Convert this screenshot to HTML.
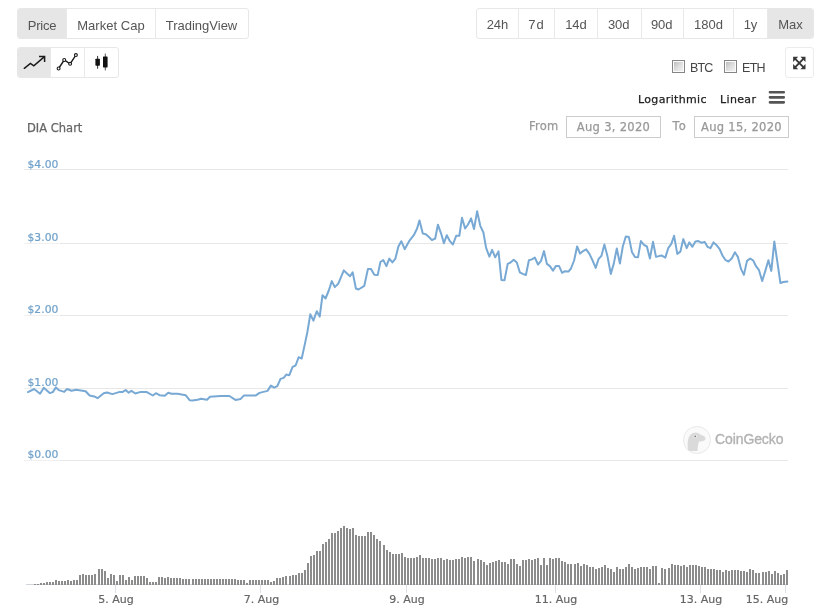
<!DOCTYPE html>
<html lang="en">
<head>
<meta charset="utf-8">
<title>DIA Chart</title>
<style>
html,body{margin:0;padding:0;background:#fff;}
body{width:822px;height:613px;position:relative;overflow:hidden;font-family:"Liberation Sans",sans-serif;color:#555;}
.abs{position:absolute;}
.chart{position:absolute;left:0;top:0;}
.grp{position:absolute;box-sizing:border-box;border:1px solid #e7e7e7;border-radius:3px;background:#fff;display:flex;overflow:hidden;}
.grp .b{box-sizing:border-box;height:100%;border-left:1px solid #e9e9e9;display:flex;align-items:center;justify-content:center;font-size:13px;color:#555;white-space:nowrap;padding-top:4px;}
.grp .b:first-child{border-left:0;}
.grp .b.on{background:#e6e6e6;}
.grp.rng .b{padding-top:1.5px;}
.ylab text{font-family:"DejaVu Sans","Liberation Sans",sans-serif;font-size:10.8px;fill:#6fa1cb;stroke:#6fa1cb;stroke-width:0.2px;}
.xlab text{font-family:"DejaVu Sans","Liberation Sans",sans-serif;font-size:11px;fill:#666;stroke:#666;stroke-width:0.2px;}
.t{position:absolute;white-space:nowrap;line-height:1;}
.inp{position:absolute;box-sizing:border-box;border:1px solid #ccc;background:#fff;color:#999;font-family:"DejaVu Sans","Liberation Sans",sans-serif;font-size:11.5px;letter-spacing:0.3px;text-align:center;line-height:20px;height:22px;-webkit-text-stroke:0.25px #999;}
.cb{position:absolute;box-sizing:border-box;width:13px;height:13px;border:1px solid #858585;padding:1px;background:linear-gradient(135deg,#bdbdbd 0%,#dedede 50%,#f2f2f2 100%) content-box,#fbfbfb;}
</style>
</head>
<body>
<svg class="chart" width="822" height="613" viewBox="0 0 822 613">
<g stroke="#e7e7e7" stroke-width="1" fill="none">
<path d="M24 169.5 H788"/>
<path d="M24 243.5 H60" stroke="#f0f0f0"/><path d="M60 243.5 H788"/>
<path d="M24 315.5 H60" stroke="#f0f0f0"/><path d="M60 315.5 H788"/>
<path d="M24 388.5 H60" stroke="#f0f0f0"/><path d="M60 388.5 H788"/>
<path d="M24 460.5 H60" stroke="#f0f0f0"/><path d="M60 460.5 H788"/>
</g>
<g class="ylab">
<text x="27.5" y="167.5">$4.00</text>
<text x="27.5" y="240.5">$3.00</text>
<text x="27.5" y="312.7">$2.00</text>
<text x="27.5" y="386.1">$1.00</text>
<text x="27.5" y="457.9">$0.00</text>
</g>
<path d="M26 584.5 H788" stroke="#d0d4da" stroke-width="1" fill="none"/>
<g fill="#8c8c8c" shape-rendering="crispEdges">
<path d="M34 584v1h2v-1zM37 584v1h2v-1zM40 583v2h2v-2zM43 583v2h2v-2zM46 582v3h2v-3zM49 582v3h2v-3zM52 582v3h2v-3zM55 580v5h2v-5zM58 581v4h2v-4zM61 581v4h2v-4zM64 581v4h2v-4zM67 580v5h2v-5zM70 581v4h2v-4zM73 580v5h2v-5zM76 580v5h2v-5zM79 575v10h2v-10zM82 574v11h2v-11zM85 575v10h2v-10zM88 575v10h2v-10zM91 575v10h2v-10zM94 574v11h2v-11zM98 569v16h2v-16zM101 569v16h2v-16zM104 571v14h2v-14zM107 578v7h2v-7zM110 574v11h2v-11zM113 575v10h2v-10zM116 581v4h2v-4zM119 575v10h2v-10zM122 575v10h2v-10zM125 580v5h2v-5zM128 577v8h2v-8zM131 580v5h2v-5zM134 576v9h2v-9zM137 576v9h2v-9zM140 576v9h2v-9zM143 576v9h2v-9zM146 578v7h2v-7zM149 582v3h2v-3zM152 582v3h2v-3zM155 582v3h2v-3zM158 577v8h2v-8zM161 577v8h2v-8zM164 578v7h2v-7zM167 577v8h2v-8zM170 578v7h2v-7zM173 578v7h2v-7zM176 578v7h2v-7zM179 578v7h2v-7zM182 579v6h2v-6zM185 579v6h2v-6zM188 579v6h2v-6zM192 579v6h2v-6zM195 579v6h2v-6zM198 579v6h2v-6zM201 579v6h2v-6zM204 579v6h2v-6zM207 579v6h2v-6zM210 579v6h2v-6zM213 579v6h2v-6zM216 579v6h2v-6zM219 579v6h2v-6zM222 579v6h2v-6zM225 579v6h2v-6zM228 579v6h2v-6zM231 579v6h2v-6zM234 579v6h2v-6zM237 580v5h2v-5zM240 580v5h2v-5zM243 580v5h2v-5zM246 583v2h2v-2zM249 580v5h2v-5zM252 580v5h2v-5zM255 580v5h2v-5zM258 580v5h2v-5zM261 580v5h2v-5zM264 580v5h2v-5zM267 580v5h2v-5zM270 582v3h2v-3zM273 581v4h2v-4zM276 578v7h2v-7zM279 578v7h2v-7zM282 577v8h2v-8zM285 576v9h2v-9zM289 576v9h2v-9zM292 575v10h2v-10zM295 575v10h2v-10zM298 573v12h2v-12zM301 573v12h2v-12zM304 570v15h2v-15zM307 563v22h2v-22zM310 556v29h2v-29zM313 555v30h2v-30zM316 551v34h2v-34zM319 551v34h2v-34zM322 544v41h2v-41zM325 542v43h2v-43zM328 539v46h2v-46zM331 533v52h2v-52zM334 533v52h2v-52zM337 531v54h2v-54zM340 528v57h2v-57zM343 526v59h2v-59zM346 528v57h2v-57zM349 529v56h2v-56zM352 528v57h2v-57zM355 535v50h2v-50zM358 536v49h2v-49zM361 536v49h2v-49zM364 536v49h2v-49zM367 532v53h2v-53zM370 532v53h2v-53zM373 535v50h2v-50zM376 539v46h2v-46zM379 541v44h2v-44zM383 545v40h2v-40zM386 550v35h2v-35zM389 552v33h2v-33zM392 554v31h2v-31zM395 554v31h2v-31zM398 554v31h2v-31zM401 553v32h2v-32zM404 557v28h2v-28zM407 558v27h2v-27zM410 558v27h2v-27zM413 558v27h2v-27zM416 557v28h2v-28zM419 555v30h2v-30zM422 558v27h2v-27zM425 558v27h2v-27zM428 558v27h2v-27zM431 559v26h2v-26zM434 559v26h2v-26zM437 558v27h2v-27zM440 558v27h2v-27zM443 560v25h2v-25zM446 559v26h2v-26zM449 560v25h2v-25zM452 560v25h2v-25zM455 559v26h2v-26zM458 559v26h2v-26zM461 557v28h2v-28zM464 558v27h2v-27zM467 557v28h2v-28zM470 557v28h2v-28zM473 561v24h2v-24zM477 559v26h2v-26zM480 560v25h2v-25zM483 562v23h2v-23zM486 565v20h2v-20zM489 563v22h2v-22zM492 562v23h2v-23zM495 561v24h2v-24zM498 560v25h2v-25zM501 562v23h2v-23zM504 562v23h2v-23zM507 564v21h2v-21zM510 559v26h2v-26zM513 559v26h2v-26zM516 564v21h2v-21zM519 566v19h2v-19zM522 560v25h2v-25zM525 560v25h2v-25zM528 559v26h2v-26zM531 560v25h2v-25zM534 559v26h2v-26zM537 558v27h2v-27zM540 565v20h2v-20zM543 558v27h2v-27zM546 565v20h2v-20zM549 558v27h2v-27zM552 559v26h2v-26zM555 558v27h2v-27zM558 558v27h2v-27zM561 561v24h2v-24zM564 562v23h2v-23zM567 564v21h2v-21zM570 564v21h2v-21zM574 564v21h2v-21zM577 563v22h2v-22zM580 566v19h2v-19zM583 564v21h2v-21zM586 565v20h2v-20zM589 567v18h2v-18zM592 567v18h2v-18zM595 569v16h2v-16zM598 568v17h2v-17zM601 567v18h2v-18zM604 565v20h2v-20zM607 568v17h2v-17zM610 569v16h2v-16zM613 572v13h2v-13zM616 567v18h2v-18zM619 569v16h2v-16zM622 569v16h2v-16zM625 567v18h2v-18zM628 564v21h2v-21zM631 567v18h2v-18zM634 569v16h2v-16zM637 568v17h2v-17zM640 567v18h2v-18zM643 567v18h2v-18zM646 567v18h2v-18zM649 569v16h2v-16zM652 566v19h2v-19zM655 566v19h2v-19zM658 583v2h2v-2zM661 568v17h2v-17zM664 569v16h2v-16zM668 568v17h2v-17zM671 564v21h2v-21zM674 565v20h2v-20zM677 565v20h2v-20zM680 566v19h2v-19zM683 565v20h2v-20zM686 567v18h2v-18zM689 565v20h2v-20zM692 565v20h2v-20zM695 565v20h2v-20zM698 566v19h2v-19zM701 567v18h2v-18zM704 567v18h2v-18zM707 569v16h2v-16zM710 569v16h2v-16zM713 569v16h2v-16zM716 570v15h2v-15zM719 570v15h2v-15zM722 572v13h2v-13zM725 570v15h2v-15zM728 571v14h2v-14zM731 570v15h2v-15zM734 570v15h2v-15zM737 570v15h2v-15zM740 571v14h2v-14zM743 571v14h2v-14zM746 572v13h2v-13zM749 569v16h2v-16zM752 570v15h2v-15zM755 573v12h2v-12zM758 573v12h2v-12zM762 572v13h2v-13zM765 572v13h2v-13zM768 571v14h2v-14zM771 574v11h2v-11zM774 571v14h2v-14zM777 573v12h2v-12zM780 575v10h2v-10zM783 574v11h2v-11zM786 570v15h2v-15z"/>
</g>
<g stroke="#dde0e6" stroke-width="1" fill="none">
<path d="M115.5 585 V593"/>
<path d="M260.5 585 V593"/>
<path d="M406.5 585 V593"/>
<path d="M555.5 585 V593"/>
<path d="M700.5 585 V593"/>
<path d="M785.5 585 V593"/>
</g>
<g class="xlab">
<text x="116" y="603" text-anchor="middle">5. Aug</text>
<text x="261.5" y="603" text-anchor="middle">7. Aug</text>
<text x="407" y="603" text-anchor="middle">9. Aug</text>
<text x="556" y="603" text-anchor="middle">11. Aug</text>
<text x="701" y="603" text-anchor="middle">13. Aug</text>
<text x="767" y="603" text-anchor="middle">15. Aug</text>
</g>
<polyline points="28,392.1 34.1,389 40.1,393.7 43.8,387.8 49.7,393.1 52.8,392.1 55.9,387.4 58.8,390.1 64.2,391.9 67.1,389 71.5,390.8 76.2,389.7 85.6,391.2 89.6,395.5 94.3,396.4 97.6,398.2 103.7,393.2 107,392.5 112.4,394.1 119,392.1 122.7,391.9 125.6,390.1 128.7,392.8 131.4,390.8 135.4,393.5 140.7,391.9 146.8,392.1 152.8,395.5 155.9,393.2 159.5,395.2 164.8,395.7 168.2,392.8 171.5,393.7 177.6,393.7 185.6,395.2 189.6,400.2 192.3,400.6 197.6,399.8 201,398.8 207,399.8 210,396.8 220.4,396.1 229.4,396 235.4,399.9 240.7,398.9 243.8,395.6 255.5,395.6 259.5,392.9 267.5,390.9 270.9,385.6 274.2,387.6 277.3,386.2 280.5,378.9 283.6,377.9 286.3,374.6 289.3,375.2 292.6,366.8 295.6,365.5 298.7,357.2 301.7,358.5 305,343.4 307.3,332.5 310.3,314.3 313.4,320.6 316.8,311.2 319.7,316.6 322.5,295.2 325.5,298.5 328.8,290.5 331.8,281.1 334.8,287.1 338.2,283.8 343.8,270.4 350,276.2 352.7,272.4 355.9,288.5 358.5,289.5 364.3,285.8 367.9,269.1 371,269.1 374.3,274.8 377.7,275.1 380.4,262 383.3,260.1 386.4,266.1 389.3,258.6 392.4,262.4 395.4,258.6 398.4,246.5 401.3,241.2 404.7,249.2 409.1,241.2 413.8,235.2 417.1,228.5 419.5,220.4 422.8,233.6 425.8,234.2 429.2,237.2 431.9,240.1 435.2,238.5 437.9,224.7 441.2,233.8 443.9,243.2 446.8,235.2 449.9,241.2 452.9,244.5 456.2,235.8 459.3,235.8 462,217.8 465.1,228.5 468,224.5 471.1,218.4 474,229.1 477.1,211.3 480.3,225.8 483.4,232.5 486.1,247.9 489.4,256.6 492.1,249.9 495.2,257.3 498.5,251.4 501.4,279.9 504.5,280.3 507.7,263.9 510.5,262.5 513.7,259.8 516.8,262.5 519.8,272.3 522.8,273.9 525.9,275 528.9,260.2 531.9,259.4 534.9,257.6 538,264.5 540.9,261.2 544,251.1 546.9,263.9 549.9,266.1 553,270.6 556,265.9 559,265.9 562.1,272.8 565,271.2 568.4,271.6 571,268.5 574.1,260.5 577.1,246.5 580.1,253.6 583.1,251.1 586.2,249.4 589.4,253.9 592.3,259.9 595.7,267.9 598.5,259.2 601.4,255.9 604.4,244.5 607.4,255.9 610.8,273.9 613.7,263.9 616.8,248.5 619.9,263.6 622.8,246.5 625.8,236.5 628.9,237.1 631.9,251.9 634.9,256.9 638,257.2 640.9,241.1 644,244.9 646.9,246.5 649.9,258.5 653,241.8 656,256.9 659,256.1 661.9,255.6 665.3,257.6 668.4,247.8 671.3,243.8 674.1,235.8 677.3,253.9 680.4,251.6 683.3,239.1 686.7,248.1 689.3,242.4 692.4,246.8 695.4,241.5 698.4,241.1 701.7,242.8 704.7,241.9 707.5,246.8 710.4,248.2 713.5,242.4 716.5,245.1 719.5,248.8 722.5,255.5 725.6,260.2 728.5,261.5 731.9,258.2 734.9,252.2 737.9,256.9 741,268.9 743.9,274.9 747,260.9 750.2,258.5 753.3,260.6 756,266.2 759,270.2 762.2,281 765.3,270.9 768.4,260.2 771.3,270.9 774.3,241.5 777.4,262.2 780.4,283 783.4,282 787.4,281.6" fill="none" stroke="#78a9d4" stroke-width="2" stroke-linejoin="round" stroke-linecap="round"/>
</svg>

<div class="grp" style="left:17px;top:8px;width:232px;height:31px;">
  <div class="b on" style="width:48px;letter-spacing:-0.25px;">Price</div>
  <div class="b" style="width:89px;padding-right:0;letter-spacing:0.05px;">Market Cap</div>
  <div class="b" style="flex:1;padding-right:1px;">TradingView</div>
</div>

<div class="grp" style="left:17px;top:47px;width:102px;height:31px;">
  <div class="b on" style="width:32px;"></div>
  <div class="b" style="width:34px;"></div>
  <div class="b" style="flex:1;"></div>
</div>
<svg class="abs" style="left:0;top:40px;" width="130" height="45" viewBox="0 40 130 45">
  <g fill="none" stroke="#1a1a1a" stroke-width="1.5" stroke-linejoin="miter" stroke-linecap="round">
    <path d="M24.3 68.3 L30.4 63.4 L33.8 65.9 L44.2 56.9"/>
    <path d="M39.8 56.5 H44.6 V61.3" stroke-linecap="square"/>
  </g>
  <path d="M58.6 68.5 L64.2 60 L70.1 63.8 L75.9 55.1" fill="none" stroke="#1a1a1a" stroke-width="1.4"/>
  <g fill="#fff" stroke="#1a1a1a" stroke-width="1.1">
    <circle cx="58.6" cy="68.5" r="1.45"/><circle cx="64.2" cy="60" r="1.45"/><circle cx="70.1" cy="63.8" r="1.45"/><circle cx="75.9" cy="55.1" r="1.45"/>
  </g>
  <g fill="#111">
    <rect x="97.1" y="55.9" width="1" height="12.8" fill="#333"/>
    <rect x="95.4" y="58.7" width="4.5" height="7" rx="0.6"/>
    <rect x="104.8" y="53.6" width="1" height="16.8" fill="#555"/>
    <rect x="103" y="56.4" width="4.6" height="11" rx="0.6"/>
  </g>
</svg>

<div class="grp rng" style="left:476px;top:8px;width:338px;height:31px;">
  <div class="b" style="width:41px;">24h</div>
  <div class="b" style="width:36px;letter-spacing:1px;">7d</div>
  <div class="b" style="width:43px;">14d</div>
  <div class="b" style="width:44px;padding-right:1.5px;">30d</div>
  <div class="b" style="width:42px;padding-right:1.5px;">90d</div>
  <div class="b" style="width:50px;">180d</div>
  <div class="b" style="width:34px;">1y</div>
  <div class="b on" style="flex:1;">Max</div>
</div>

<div class="cb" style="left:672px;top:60px;"></div>
<div class="t" style="left:690px;top:62px;font-size:12.5px;letter-spacing:-0.9px;color:#444;">BTC</div>
<div class="cb" style="left:724px;top:60px;"></div>
<div class="t" style="left:742px;top:62px;font-size:12.5px;letter-spacing:-0.7px;color:#444;">ETH</div>

<div class="grp" style="left:785px;top:47px;width:29px;height:31px;border-color:#ececec;"></div>
<svg class="abs" style="left:785px;top:47px;" width="29" height="31" viewBox="785 47 29 31">
  <g fill="none" stroke="#383838" stroke-width="1.9"><path d="M795 58.7 L803.6 67.3 M803.6 58.7 L795 67.3"/></g>
  <g fill="#383838"><path d="M793.1 56.8 H798.2 L793.1 61.9 Z"/><path d="M805.5 56.8 V61.9 L800.4 56.8 Z"/><path d="M793.1 69.2 V64.1 L798.2 69.2 Z"/><path d="M805.5 69.2 H800.4 L805.5 64.1 Z"/></g>
</svg>

<div class="t" style="left:638px;top:94px;font-family:'DejaVu Sans','Liberation Sans',sans-serif;font-size:11px;letter-spacing:0.35px;color:#222;-webkit-text-stroke:0.25px #222;">Logarithmic</div>
<div class="t" style="left:720px;top:94px;font-family:'DejaVu Sans','Liberation Sans',sans-serif;font-size:11px;letter-spacing:0.35px;color:#222;-webkit-text-stroke:0.25px #222;">Linear</div>
<svg class="abs" style="left:768px;top:88px;" width="18" height="18" viewBox="768 88 18 18"><g fill="#555"><rect x="768.7" y="91" width="16.3" height="2.6" rx="1.1"/><rect x="768.7" y="96" width="16.3" height="2.7" rx="1.1"/><rect x="768.7" y="101" width="16.3" height="2.7" rx="1.1"/></g></svg>

<div class="t" style="left:27px;top:122.6px;font-family:'DejaVu Sans','Liberation Sans',sans-serif;font-size:11.5px;color:#666;-webkit-text-stroke:0.25px #666;">DIA Chart</div>

<div class="t" style="left:529px;top:121px;font-family:'DejaVu Sans','Liberation Sans',sans-serif;font-size:11.5px;letter-spacing:0.25px;color:#999;-webkit-text-stroke:0.25px #999;">From</div>
<div class="inp" style="left:566px;top:116px;width:95px;">Aug 3, 2020</div>
<div class="t" style="left:672.5px;top:121px;font-family:'DejaVu Sans','Liberation Sans',sans-serif;font-size:11.5px;letter-spacing:1.3px;color:#999;-webkit-text-stroke:0.25px #999;">To</div>
<div class="inp" style="left:694px;top:116px;width:95px;">Aug 15, 2020</div>

<div class="abs" style="left:683px;top:426px;width:27.6px;height:27.6px;box-sizing:border-box;border:1.6px solid #e9e9e9;border-radius:50%;background:#fafafa;overflow:hidden;">
  <svg width="24" height="24" viewBox="0 0 24 24" style="position:absolute;left:0;top:0;"><path d="M4 22 C3 15 4 8 9 6 C12 4.5 15 6 17 8 C20 8.5 22 10.5 21.5 12 C21 14 17.5 14.5 15 14.5 C14 18 13.5 21 13.5 24 H4 Z" fill="#dadada"/><circle cx="11.2" cy="9.3" r="1.6" fill="#f4f4f4"/><circle cx="11.2" cy="9.3" r="0.9" fill="#777"/></svg>
</div>
<div class="t" style="left:715px;top:432px;font-size:14px;color:#b2b2b2;letter-spacing:-0.1px;-webkit-text-stroke:0.35px #b2b2b2;">CoinGecko</div>
</body>
</html>
